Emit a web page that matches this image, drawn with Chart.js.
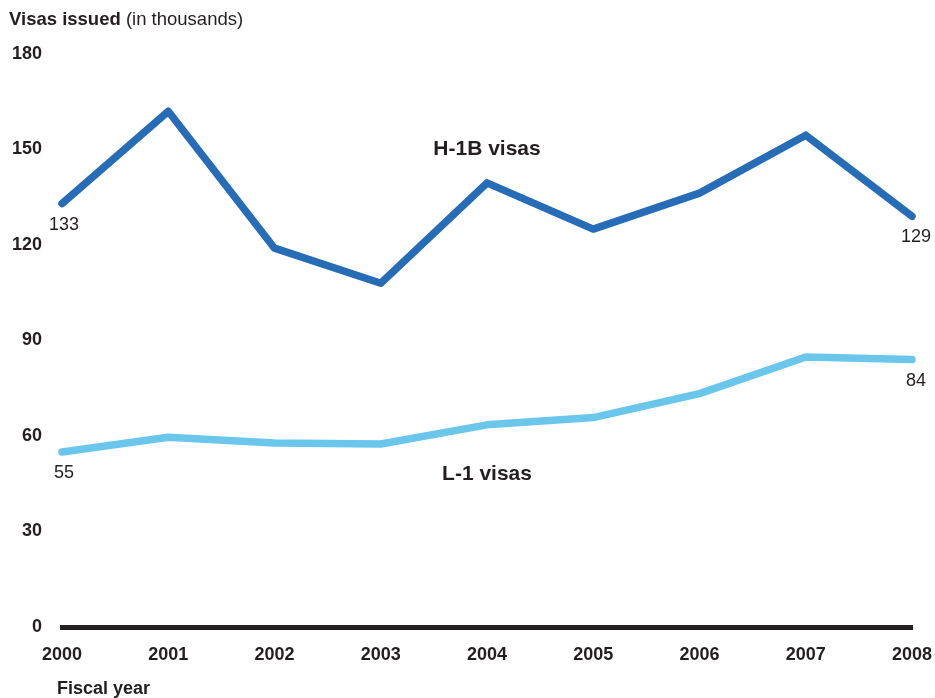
<!DOCTYPE html>
<html><head><meta charset="utf-8">
<script src="https://cdn.jsdelivr.net/npm/chart.js@4/dist/chart.umd.min.js"></script>
<style>html,body{margin:0;padding:0;background:#fff}canvas{display:block}</style>
</head><body>
<canvas id="c" width="935" height="698"></canvas>
<script>
const years = ['2000','2001','2002','2003','2004','2005','2006','2007','2008'];
const h1bVisas = [133, 162, 119, 108, 139.5, 125, 136.3, 154.5, 129];
const l1Visas = [55, 59.6, 57.8, 57.5, 63.5, 65.8, 73.3, 84.8, 84];
const yTickValues = [0, 30, 60, 90, 120, 150, 180];
const seriesNames = ['H-1B visas', 'L-1 visas'];
const seriesLabelAt = [[4, 150], [4, 48]];
const headerBold = 'Visas issued';
const headerRegular = ' (in thousands)';
const xTitle = 'Fiscal year';

const INK = '#231f20';
const FONT = '"Liberation Sans", Arial, Helvetica, sans-serif';

const annot = {
  id: 'annot',
  afterDatasetsDraw(chart) {
    const ctx = chart.ctx, xs = chart.scales.x, ys = chart.scales.y;
    ctx.save();
    ctx.fillStyle = INK;
    ctx.textBaseline = 'alphabetic';
    ctx.textAlign = 'left';
    ctx.font = 'bold 18.5px ' + FONT;
    ctx.fillText(headerBold, 9, 25);
    const w = ctx.measureText(headerBold).width;
    ctx.font = '18.5px ' + FONT;
    ctx.fillText(headerRegular, 9 + w, 25);
    ctx.font = 'bold 18px ' + FONT;
    ctx.fillText(xTitle, 57, 694);
    ctx.font = '18px ' + FONT;
    ctx.textAlign = 'center';
    ctx.textBaseline = 'middle';
    chart.data.datasets.forEach((ds) => {
      const last = ds.data.length - 1;
      [0, last].forEach((i) => {
        const x = xs.getPixelForValue(i);
        const y = ys.getPixelForValue(ds.data[i]);
        ctx.fillText(String(Math.round(ds.data[i])), x + (i === 0 ? 2 : 4), y + 21);
      });
    });
    ctx.font = 'bold 21px ' + FONT;
    seriesNames.forEach((n, k) => {
      const p = seriesLabelAt[k];
      ctx.fillText(n, xs.getPixelForValue(p[0]), ys.getPixelForValue(p[1]));
    });
    ctx.restore();
  }
};

new Chart(document.getElementById('c'), {
  type: 'line',
  data: {
    labels: years,
    datasets: [
      { label: seriesNames[0], data: h1bVisas, borderColor: '#266cb6', borderWidth: 7.5,
        pointRadius: 0, tension: 0, clip: false, borderCapStyle: 'round', borderJoinStyle: 'round' },
      { label: seriesNames[1], data: l1Visas, borderColor: '#6bc6ec', borderWidth: 7.5,
        pointRadius: 0, tension: 0, clip: false, borderCapStyle: 'round', borderJoinStyle: 'round' }
    ]
  },
  options: {
    responsive: false,
    animation: false,
    layout: { padding: { top: 54, right: 23, left: 0, bottom: 0 } },
    plugins: { legend: { display: false }, tooltip: { enabled: false } },
    scales: {
      x: {
        offset: false,
        grid: { display: false, drawTicks: false },
        border: { display: true, color: INK, width: 5 },
        ticks: { color: INK, font: { family: FONT, size: 18, weight: 'bold' }, padding: 17, maxRotation: 0, autoSkip: false },
        afterFit(s) { s.height = 71; s.paddingLeft = 0; s.paddingRight = 0; }
      },
      y: {
        min: 0, max: 180,
        afterBuildTicks(s) { s.ticks = yTickValues.map(v => ({ value: v })); },
        grid: { display: false, drawTicks: false },
        border: { display: false },
        ticks: { color: INK, font: { family: FONT, size: 18, weight: 'bold' }, padding: 20 },
        afterFit(s) { s.width = 62; s.paddingTop = 0; s.paddingBottom = 0; }
      }
    }
  },
  plugins: [annot]
});
</script>
</body></html>
